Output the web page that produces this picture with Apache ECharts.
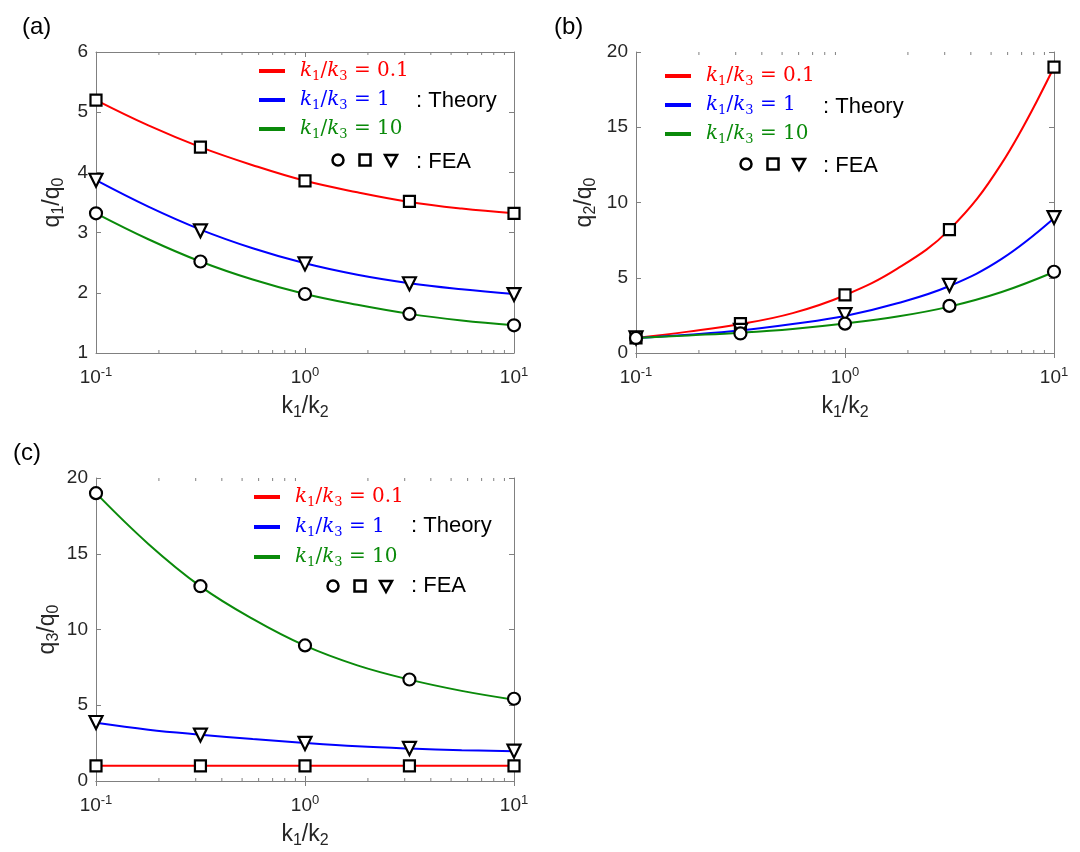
<!DOCTYPE html>
<html>
<head>
<meta charset="utf-8">
<title>q/q0 vs k1/k2</title>
<script src="https://cdn.jsdelivr.net/npm/echarts@6/dist/echarts.min.js"></script>
<style>
  html, body { margin: 0; padding: 0; background: #fff; }
  #chart { width: 1080px; height: 852px; }
</style>
</head>
<body>
<div id="chart"></div>
<script>
// x axis: k1/k2 (log scale)
// FEA samples and the points
var feaK1K2 = [0.1, 0.316, 1, 3.16, 10];
var theoryK1K2 = [0.1, 0.178, 0.316, 0.562, 1, 1.78, 3.16, 5.62, 10];
var minorMultipliers = [2, 3, 4, 5, 6, 7, 8, 9];
// legend entries: k1/k3
var ratioK1K3 = ['0.1', '1', '10'];

// (a) q1/q0
var q1Range = [1, 6, 1];
var q1Theory01 = [5.20, 4.78, 4.42, 4.12, 3.86, 3.67, 3.51, 3.40, 3.32];
var q1Theory1  = [3.87, 3.43, 3.05, 2.74, 2.49, 2.30, 2.16, 2.06, 1.98];
var q1Theory10 = [3.32, 2.89, 2.52, 2.22, 1.98, 1.80, 1.65, 1.54, 1.46];
var q1Fea01 = [5.20, 4.42, 3.86, 3.52, 3.32];
var q1Fea1  = [3.87, 3.03, 2.48, 2.15, 1.97];
var q1Fea10 = [3.32, 2.52, 1.98, 1.65, 1.46];

// (b) q2/q0
var q2Range = [0, 20, 5];
var q2Theory01 = [1.0, 1.42, 1.92, 2.65, 3.84, 5.6, 8.2, 12.6, 19.0];
var q2Theory1  = [1.0, 1.22, 1.50, 1.93, 2.46, 3.30, 4.45, 6.25, 8.95];
var q2Theory10 = [1.0, 1.17, 1.35, 1.60, 1.96, 2.42, 3.08, 4.05, 5.38];
var q2Fea01 = [1.0, 1.95, 3.86, 8.2, 19.0];
var q2Fea1  = [1.0, 1.50, 2.55, 4.5, 9.0];
var q2Fea10 = [1.0, 1.30, 1.95, 3.13, 5.40];

// (c) q3/q0
var q3Range = [0, 20, 5];
var q3Theory01 = [1.0, 1.0, 1.0, 1.0, 1.0, 1.0, 1.0, 1.0, 1.0];
var q3Theory1  = [3.84, 3.39, 3.06, 2.77, 2.51, 2.29, 2.14, 2.03, 1.97];
var q3Theory10 = [19.0, 15.65, 12.85, 10.70, 8.93, 7.63, 6.69, 5.95, 5.37];
var q3Fea01 = [1.0, 1.0, 1.0, 1.0, 1.0];
var q3Fea1  = [3.86, 3.03, 2.48, 2.15, 1.97];
var q3Fea10 = [19.0, 12.86, 8.95, 6.70, 5.43];

var colors = ['#ff0000', '#0000ff', '#0a8a0a'];
var axisGray = '#808080';
var labelGray = '#262626';
var sans = 'Liberation Sans';
var serif = 'DejaVu Serif';

// panel layout (pixels)
var panels = [
  { grid: { left: 96, top: 52, width: 418, height: 301 }, range: q1Range, sub: '1', label: '(a)', labelPos: [22, 27],
    nameGap: 29, legendPos: [254, 56], legendGap: 7,
    theory: [q1Theory01, q1Theory1, q1Theory10], fea: [q1Fea01, q1Fea1, q1Fea10],
    theoryText: [416, 101], feaRow: [338, 160], feaText: [416, 162] },
  { grid: { left: 636, top: 52, width: 418, height: 301 }, range: q2Range, sub: '2', label: '(b)', labelPos: [554, 27],
    nameGap: 37, legendPos: [660, 61], legendGap: 7,
    theory: [q2Theory01, q2Theory1, q2Theory10], fea: [q2Fea01, q2Fea1, q2Fea10],
    theoryText: [823, 107], feaRow: [746, 164], feaText: [823, 166] },
  { grid: { left: 96, top: 478, width: 418, height: 303 }, range: q3Range, sub: '3', label: '(c)', labelPos: [13, 453],
    nameGap: 34, legendPos: [249, 482], legendGap: 8,
    theory: [q3Theory01, q3Theory1, q3Theory10], fea: [q3Fea01, q3Fea1, q3Fea10],
    theoryText: [411, 526], feaRow: [333, 586], feaText: [411, 586] }
];

// FEA markers: square for k1/k3=0.1, triangle for 1, circle for 10
var feaSymbols = [
  { symbol: 'rect', size: 11, rotate: 0 },
  { symbol: 'triangle', size: 13, rotate: 180 },
  { symbol: 'circle', size: 12, rotate: 0 }
];

function pairs(xs, ys) {
  return xs.map(function (x, i) { return [x, ys[i]]; });
}

var grids = [], xAxes = [], yAxes = [], series = [], legends = [], graphics = [];

panels.forEach(function (p, g) {
  grids.push(p.grid);
  var xBase = {
    type: 'log', logBase: 10, min: 0.1, max: 10, gridIndex: g,
    axisLine: { show: true, lineStyle: { color: axisGray, width: 1 } },
    axisTick: { show: true, inside: true, length: 5, lineStyle: { color: axisGray } },
    splitLine: { show: false }
  };
  xAxes.push(Object.assign({}, xBase, {
    position: 'bottom',
    axisLabel: {
      margin: 13,
      formatter: function (v) {
        return '{b|10}{e|' + Math.round(Math.log10(v)) + '}';
      },
      rich: {
        b: { fontSize: 19, fontFamily: sans, color: labelGray, lineHeight: 24 },
        e: { fontSize: 13, fontFamily: sans, color: labelGray, lineHeight: 13, verticalAlign: 'top' }
      }
    },
    name: '{k|k}{s|1}{k|/k}{s|2}',
    nameLocation: 'middle',
    nameGap: 40,
    nameTextStyle: {
      rich: {
        k: { fontSize: 23, fontFamily: sans, color: labelGray, lineHeight: 28 },
        s: { fontSize: 16, fontFamily: sans, color: labelGray, lineHeight: 16, verticalAlign: 'bottom' }
      }
    }
  }));
  xAxes.push(Object.assign({}, xBase, { position: 'top', axisLabel: { show: false } }));

  var yBase = {
    type: 'value', min: p.range[0], max: p.range[1], interval: p.range[2], gridIndex: g,
    axisLine: { show: true, lineStyle: { color: axisGray, width: 1 } },
    axisTick: { show: true, inside: true, length: 5, lineStyle: { color: axisGray } },
    splitLine: { show: false }
  };
  yAxes.push(Object.assign({}, yBase, {
    position: 'left',
    axisLabel: { fontSize: 19, fontFamily: sans, color: labelGray, margin: 8 },
    name: '{q|q}{s|' + p.sub + '}{q|/q}{s|0}',
    nameLocation: 'middle',
    nameRotate: 90,
    nameGap: p.nameGap,
    nameTextStyle: {
      rich: {
        q: { fontSize: 23, fontFamily: sans, color: labelGray, lineHeight: 28 },
        s: { fontSize: 16, fontFamily: sans, color: labelGray, lineHeight: 16, verticalAlign: 'bottom' }
      }
    }
  }));
  yAxes.push(Object.assign({}, yBase, { position: 'right', axisLabel: { show: false } }));

  // theory curves
  p.theory.forEach(function (ys, i) {
    series.push({
      name: ratioK1K3[i], type: 'line', xAxisIndex: 2 * g, yAxisIndex: 2 * g,
      data: pairs(theoryK1K2, ys), smooth: 0.4, showSymbol: false, symbol: 'none',
      itemStyle: { color: colors[i] },
      lineStyle: { color: colors[i], width: 2 },
      z: 2
    });
  });
  // FEA markers
  p.fea.forEach(function (ys, i) {
    var s = feaSymbols[i];
    series.push({
      name: 'FEA ' + ratioK1K3[i], type: 'scatter', xAxisIndex: 2 * g, yAxisIndex: 2 * g,
      data: pairs(feaK1K2, ys), symbol: s.symbol, symbolSize: s.size, symbolRotate: s.rotate,
      itemStyle: { color: '#ffffff', borderColor: '#000000', borderWidth: 2.2, opacity: 1 },
      z: 4
    });
  });

  legends.push({
    orient: 'vertical', left: p.legendPos[0], top: p.legendPos[1],
    icon: 'rect', itemWidth: 26, itemHeight: 4, itemGap: p.legendGap,
    selectedMode: false,
    data: ratioK1K3.map(function (n, i) { return { name: n, textStyle: { color: colors[i] } }; }),
    formatter: function (name) {
      return '{gap| }{k|k}{s|1}{n|/}{k|k}{s|3}{n| = ' + name + '}';
    },
    textStyle: {
      rich: {
        gap: { width: 10 },
        k: { fontFamily: serif, fontStyle: 'italic', fontSize: 20, lineHeight: 24 },
        n: { fontFamily: serif, fontSize: 20, lineHeight: 24 },
        s: { fontFamily: serif, fontSize: 13, lineHeight: 13, verticalAlign: 'bottom' }
      }
    }
  });

  // panel letter and legend annotations
  graphics.push({ type: 'text', x: p.labelPos[0], y: p.labelPos[1],
    style: { text: p.label, fontSize: 24, fontFamily: sans, fill: '#000', verticalAlign: 'middle', align: 'left' } });
  graphics.push({ type: 'text', x: p.theoryText[0], y: p.theoryText[1],
    style: { text: ': Theory', fontSize: 22, fontFamily: sans, fill: '#000', verticalAlign: 'middle', align: 'left' } });
  graphics.push({ type: 'text', x: p.feaText[0], y: p.feaText[1],
    style: { text: ': FEA', fontSize: 22, fontFamily: sans, fill: '#000', verticalAlign: 'middle', align: 'left' } });
  var cx = p.feaRow[0], cy = p.feaRow[1];
  var mk = { fill: '#fff', stroke: '#000', lineWidth: 2.5 };
  graphics.push({ type: 'circle', shape: { cx: cx, cy: cy, r: 5.5 }, style: mk });
  graphics.push({ type: 'rect', shape: { x: cx + 27 - 5.5, y: cy - 5.5, width: 11, height: 11 }, style: mk });
  graphics.push({ type: 'polygon', shape: { points: [[cx + 53 - 6, cy - 5], [cx + 53 + 6, cy - 5], [cx + 53, cy + 6]] }, style: mk });
});

var chart = echarts.init(document.getElementById('chart'));
chart.setOption({
  animation: false,
  backgroundColor: '#ffffff',
  grid: grids,
  xAxis: xAxes,
  yAxis: yAxes,
  legend: legends,
  series: series,
  graphic: graphics
});

// log-axis minor ticks (2..9 per decade), placed through the axis scales
panels.forEach(function (p, g) {
  var finder = { xAxisIndex: 2 * g, yAxisIndex: 2 * g };
  var yBot = chart.convertToPixel(finder, [1, p.range[0]])[1];
  var yTop = chart.convertToPixel(finder, [1, p.range[1]])[1];
  [0.1, 1].forEach(function (dec) {
    minorMultipliers.forEach(function (m) {
      var px = chart.convertToPixel(finder, [m * dec, p.range[0]])[0];
      graphics.push({ type: 'line', shape: { x1: px, y1: yBot, x2: px, y2: yBot - 3 }, style: { stroke: axisGray, lineWidth: 1 } });
      graphics.push({ type: 'line', shape: { x1: px, y1: yTop, x2: px, y2: yTop + 3 }, style: { stroke: axisGray, lineWidth: 1 } });
    });
  });
});
chart.setOption({ graphic: graphics });

window.onresize = function () { chart.resize(); };
</script>
</body>
</html>
